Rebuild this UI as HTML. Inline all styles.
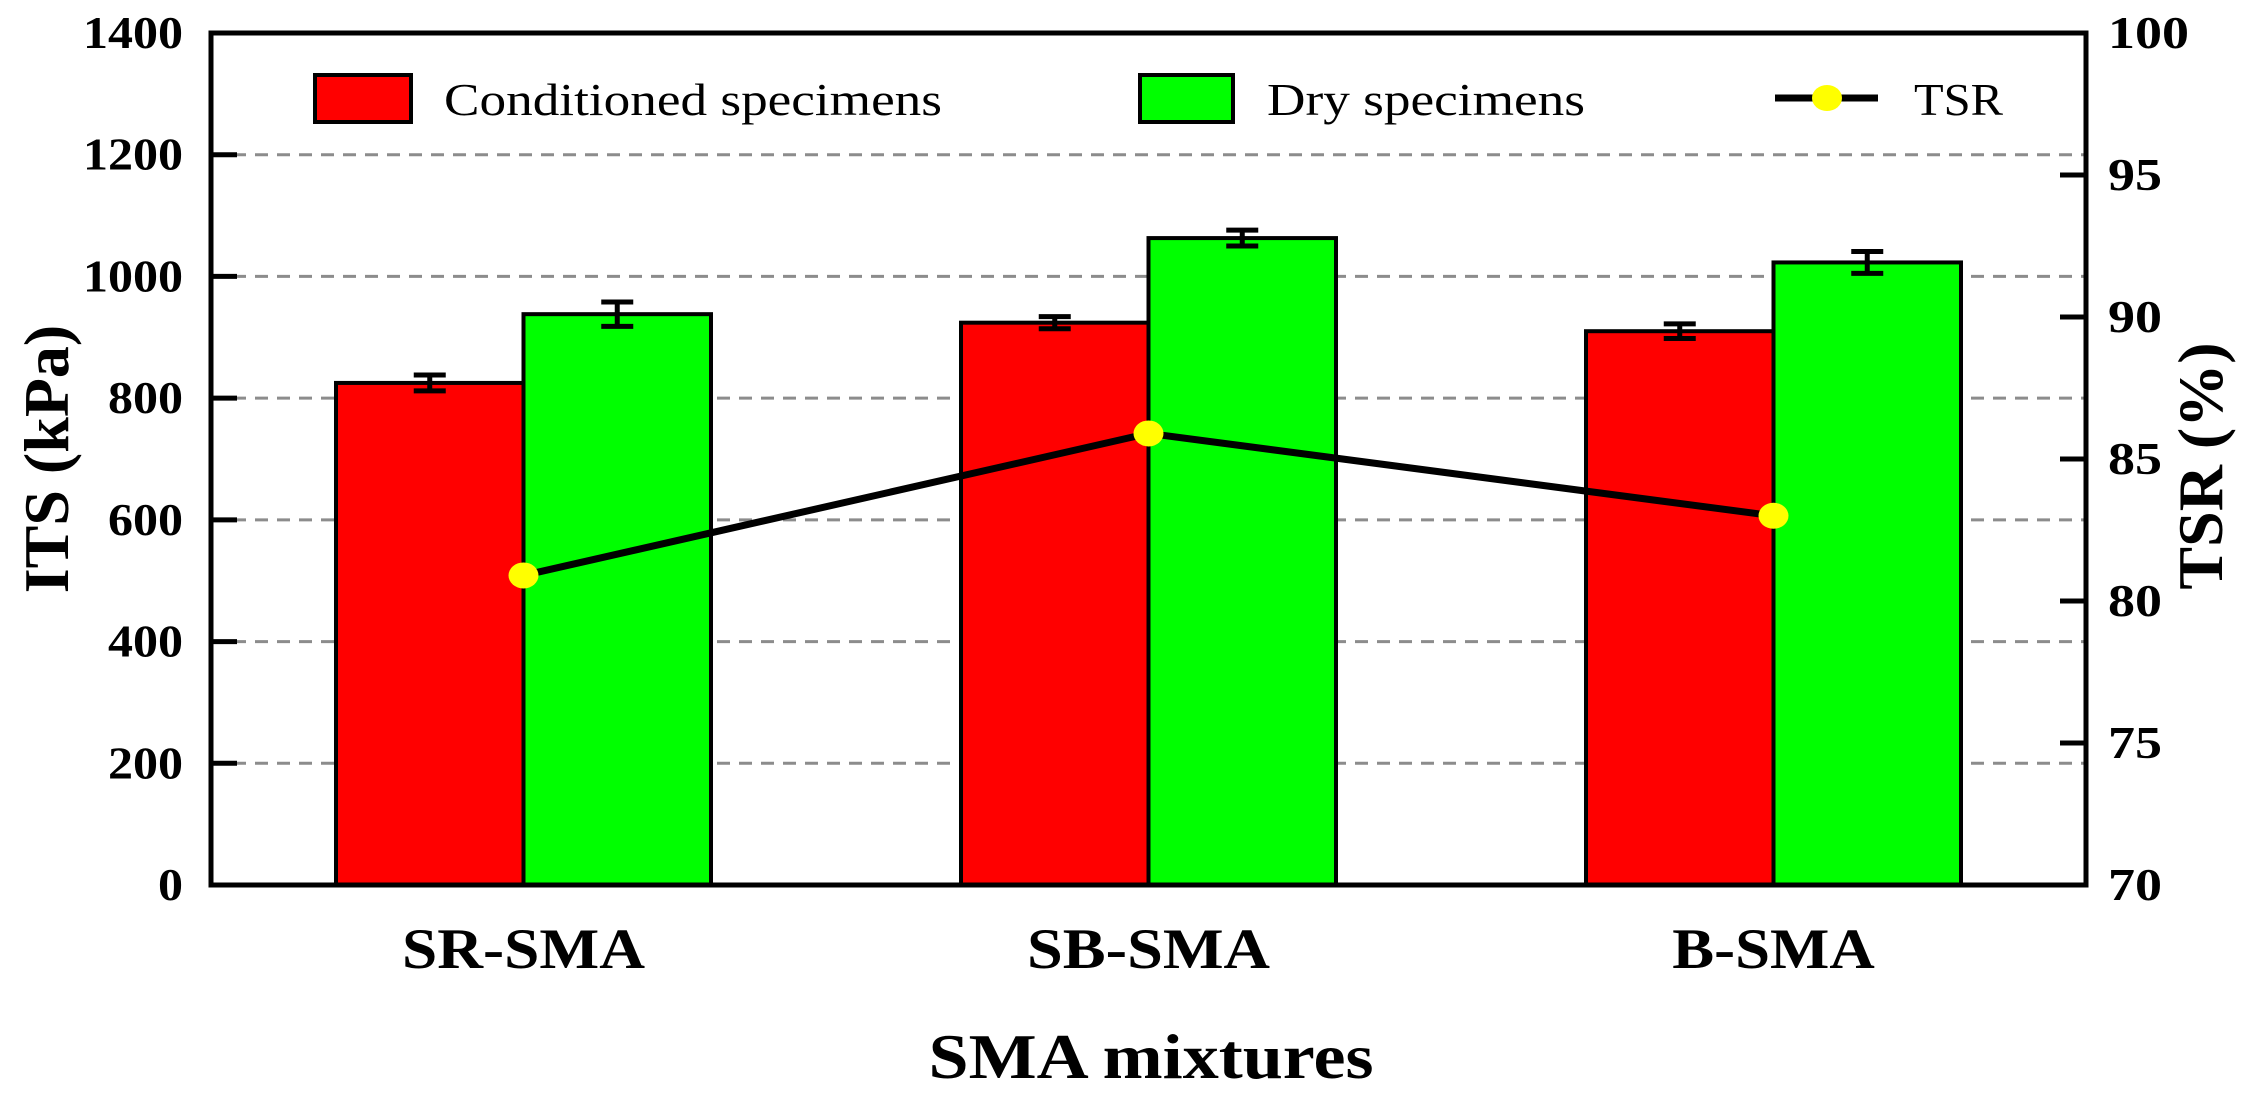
<!DOCTYPE html>
<html><head><meta charset="utf-8"><style>
html,body{margin:0;padding:0;background:#fff;}
svg{display:block;font-family:"Liberation Serif",serif;}
</style></head><body>
<svg id="chart" width="2248" height="1099" viewBox="0 0 2248 1099" xmlns="http://www.w3.org/2000/svg">
<g id="grid"></g>
<g id="bars"></g>
<g id="line"></g>
<g id="axes"></g>
<g id="legend">
  <rect x="315" y="75" width="96" height="47" fill="#ff0000" stroke="#000" stroke-width="4"/>
  <text x="444" y="115" font-size="46" textLength="498" lengthAdjust="spacingAndGlyphs">Conditioned specimens</text>
  <rect x="1140" y="75" width="93" height="47" fill="#00ff00" stroke="#000" stroke-width="4"/>
  <text x="1267" y="115" font-size="46" textLength="318" lengthAdjust="spacingAndGlyphs">Dry specimens</text>
  <line x1="1775" y1="98" x2="1878" y2="98" stroke="#000" stroke-width="7"/>
  <ellipse cx="1827" cy="98" rx="15" ry="13" fill="#ffff00"/>
  <text x="1914" y="115" font-size="46" textLength="89" lengthAdjust="spacingAndGlyphs">TSR</text>
</g>
</svg>
<script>
const categories = ["SR-SMA","SB-SMA","B-SMA"];
const conditioned = [825, 924, 910];
const conditionedErr = [13, 10, 12];
const dry = [938, 1063, 1023];
const dryErr = [20, 13, 18];
const tsr = [80.9, 85.9, 83.0];
const leftTicks = [0,200,400,600,800,1000,1200,1400];
const rightTicks = [70,75,80,85,90,95,100];

const L=211,R=2086,T=33,B=885;
const NS="http://www.w3.org/2000/svg";
function yL(v){return B-(v/1400)*(B-T);}
function yR(v){return B-((v-70)/30)*(B-T);}
const band=(R-L)/categories.length;
function xC(i){return L+band*(i+0.5);}
const bw=band*0.3;
function mk(tag,attrs,parent,txt){const e=document.createElementNS(NS,tag);for(const k in attrs)e.setAttribute(k,attrs[k]);if(txt!==undefined)e.textContent=txt;parent.appendChild(e);return e;}
const grid=document.getElementById('grid'),bars=document.getElementById('bars'),line=document.getElementById('line'),axes=document.getElementById('axes');

leftTicks.forEach(v=>{
  if(v>0&&v<1400){
    const g=mk('line',{x1:L,x2:R,y1:yL(v),y2:yL(v),stroke:'#8c8c8c','stroke-width':3,'stroke-dasharray':'13,9'},grid);
    
    
  }
});

function errbar(x,v,e,parent){
  const g=mk('g',{stroke:'#000','stroke-width':5},parent);
  
  
  mk('line',{x1:x,x2:x,y1:yL(v-e),y2:yL(v+e)},g);
  mk('line',{x1:x-16,x2:x+16,y1:yL(v-e),y2:yL(v-e)},g);
  mk('line',{x1:x-16,x2:x+16,y1:yL(v+e),y2:yL(v+e)},g);
}
categories.forEach((c,i)=>{
  const cx=xC(i);
  const r1=mk('rect',{x:cx-bw,y:yL(conditioned[i]),width:bw,height:B-yL(conditioned[i]),fill:'#ff0000',stroke:'#000','stroke-width':4},bars);
  
  
  const r2=mk('rect',{x:cx,y:yL(dry[i]),width:bw,height:B-yL(dry[i]),fill:'#00ff00',stroke:'#000','stroke-width':4},bars);
  
  
  errbar(cx-bw/2,conditioned[i],conditionedErr[i],bars);
  errbar(cx+bw/2,dry[i],dryErr[i],bars);
  const t=mk('text',{x:cx,y:968,'font-size':57,'font-weight':'bold','text-anchor':'middle',textLength:c.length*40.5,lengthAdjust:'spacingAndGlyphs'},axes,c);
  
  
});

const pts=tsr.map((v,i)=>xC(i)+','+yR(v)).join(' ');
const pl=mk('polyline',{points:pts,fill:'none',stroke:'#000','stroke-width':7},line);


tsr.forEach((v,i)=>{
  const p=mk('ellipse',{cx:xC(i),cy:yR(v),rx:15,ry:13,fill:'#ffff00'},line);
  
  
});

const frame=mk('rect',{x:L,y:T,width:R-L,height:B-T,fill:'none',stroke:'#000','stroke-width':5},axes);


leftTicks.forEach(v=>{
  const tk=mk('line',{x1:L,x2:L+26,y1:yL(v),y2:yL(v),stroke:'#000','stroke-width':5},axes);
  
  
  const s=String(v);
  const t=mk('text',{x:183,y:yL(v)+15,'font-size':45,'font-weight':'bold','text-anchor':'end',textLength:s.length*25,lengthAdjust:'spacingAndGlyphs'},axes,s);
  
  
});
rightTicks.forEach(v=>{
  const tk=mk('line',{x1:R-26,x2:R,y1:yR(v),y2:yR(v),stroke:'#000','stroke-width':5},axes);
  
  
  const s=String(v);
  const t=mk('text',{x:2108,y:yR(v)+15,'font-size':45,'font-weight':'bold',textLength:s.length*27,lengthAdjust:'spacingAndGlyphs'},axes,s);
  
  
});
const yt=mk('text',{x:0,y:0,'font-size':64,'font-weight':'bold','text-anchor':'middle',transform:'translate(68,459) rotate(-90)'},axes,'ITS (kPa)');


const yt2=mk('text',{x:0,y:0,'font-size':64,'font-weight':'bold','text-anchor':'middle',transform:'translate(2222,466) rotate(-90)'},axes,'TSR (%)');


const xt=mk('text',{x:1151,y:1078,'font-size':64,'font-weight':'bold','text-anchor':'middle',textLength:445,lengthAdjust:'spacingAndGlyphs'},axes,'SMA mixtures');


</script>
</body></html>
